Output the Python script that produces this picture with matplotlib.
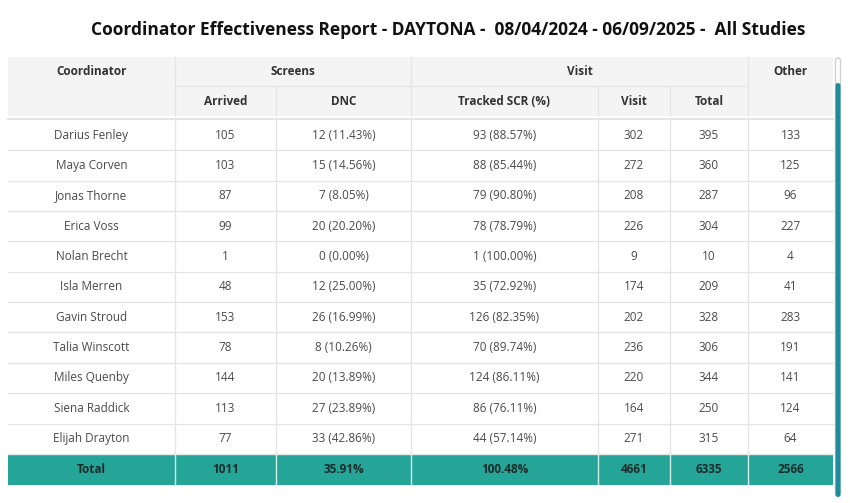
import matplotlib
matplotlib.use("Agg")
import matplotlib.pyplot as plt
from matplotlib.patches import Rectangle, FancyBboxPatch

plt.rcParams['font.family'] = ['Open Sans', 'DejaVu Sans']

title = "Coordinator Effectiveness Report - DAYTONA -  08/04/2024 - 06/09/2025 -  All Studies"
coordinators = ["Darius Fenley", "Maya Corven", "Jonas Thorne", "Erica Voss", "Nolan Brecht",
                "Isla Merren", "Gavin Stroud", "Talia Winscott", "Miles Quenby", "Siena Raddick",
                "Elijah Drayton"]
arrived = [105, 103, 87, 99, 1, 48, 153, 78, 144, 113, 77]
dnc = [12, 15, 7, 20, 0, 12, 26, 8, 20, 27, 33]
dnc_pct = ["11.43%", "14.56%", "8.05%", "20.20%", "0.00%", "25.00%", "16.99%", "10.26%",
           "13.89%", "23.89%", "42.86%"]
tracked = [93, 88, 79, 78, 1, 35, 126, 70, 124, 86, 44]
tracked_pct = ["88.57%", "85.44%", "90.80%", "78.79%", "100.00%", "72.92%", "82.35%",
               "89.74%", "86.11%", "76.11%", "57.14%"]
visit = [302, 272, 208, 226, 9, 174, 202, 236, 220, 164, 271]
total = [395, 360, 287, 304, 10, 209, 328, 306, 344, 250, 315]
other = [133, 125, 96, 227, 4, 41, 283, 191, 141, 124, 64]
totals_row = ["Total", "1011", "35.91%", "100.48%", "4661", "6335", "2566"]
group_headers = ["Coordinator", "Screens", "Visit", "Other"]
sub_headers = ["Arrived", "DNC", "Tracked SCR (%)", "Visit", "Total"]

fig = plt.figure(figsize=(8.5, 5.03), dpi=100)
ax = fig.add_axes([0, 0, 1, 1])
ax.set_xlim(0, 850)
ax.set_ylim(503, 0)
ax.axis('off')

col_x = [8, 175, 276, 411, 598, 670, 748, 833]
hdr_top, hdr_mid, hdr_bot = 57, 86, 116
body_top = 120
row_h = 30.35
line_c = '#e4e6e5'
hdr_bg = '#f3f4f3'
teal = '#25a598'

ax.text(448, 30, title, ha='center', va='center', fontsize=12.5, fontweight='bold', color='#111111')

# header background
ax.add_patch(Rectangle((col_x[0], hdr_top), col_x[-1] - col_x[0], hdr_bot - hdr_top,
                       facecolor=hdr_bg, edgecolor='none'))
# header lines
for x in col_x[1:-1]:
    if x in (col_x[1], col_x[3], col_x[6]):
        ax.plot([x, x], [hdr_top, hdr_bot], color=line_c, lw=1)
    else:
        ax.plot([x, x], [hdr_mid, hdr_bot], color=line_c, lw=1)
ax.plot([col_x[1], col_x[6]], [hdr_mid, hdr_mid], color=line_c, lw=1)

hc = '#333333'
fs = 8.5
ax.text((col_x[0] + col_x[1]) / 2, 71, group_headers[0], ha='center', va='center', fontsize=fs, fontweight='bold', color=hc)
ax.text((col_x[1] + col_x[3]) / 2, 71, group_headers[1], ha='center', va='center', fontsize=fs, fontweight='bold', color=hc)
ax.text((col_x[3] + col_x[6]) / 2, 71, group_headers[2], ha='center', va='center', fontsize=fs, fontweight='bold', color=hc)
ax.text((col_x[6] + col_x[7]) / 2, 71, group_headers[3], ha='center', va='center', fontsize=fs, fontweight='bold', color=hc)
for i, h in enumerate(sub_headers):
    ax.text((col_x[i + 1] + col_x[i + 2]) / 2, 101, h, ha='center', va='center', fontsize=fs, fontweight='bold', color=hc)

ax.plot([col_x[0], col_x[-1]], [118.5, 118.5], color=line_c, lw=1.5)

# body
n = len(coordinators)
bc = '#4a4a4a'
for r in range(n):
    y0 = body_top + r * row_h
    yc = y0 + row_h / 2
    vals = [coordinators[r], str(arrived[r]), f"{dnc[r]} ({dnc_pct[r]})",
            f"{tracked[r]} ({tracked_pct[r]})", str(visit[r]), str(total[r]), str(other[r])]
    for c, v in enumerate(vals):
        ax.text((col_x[c] + col_x[c + 1]) / 2, yc, v, ha='center', va='center', fontsize=fs, color=bc)
    ax.plot([col_x[0], col_x[-1]], [y0 + row_h, y0 + row_h], color=line_c, lw=1)
body_bot = body_top + n * row_h
for x in col_x[1:-1]:
    ax.plot([x, x], [body_top, body_bot], color=line_c, lw=1)

# total row
ty0 = body_bot + 1
th = 30
ax.add_patch(Rectangle((col_x[0], ty0), col_x[-1] - col_x[0], th, facecolor=teal, edgecolor='none'))
for x in col_x[1:-1]:
    ax.plot([x, x], [ty0, ty0 + th], color='#d8ecea', lw=1)
for c, v in enumerate(totals_row):
    ax.text((col_x[c] + col_x[c + 1]) / 2, ty0 + th / 2, v, ha='center', va='center',
            fontsize=fs, fontweight='bold', color='#1c2b2a')

# scrollbar
ax.add_patch(FancyBboxPatch((835.5, 58), 5, 438, boxstyle="round,pad=0,rounding_size=2.5",
                            facecolor='white', edgecolor='#d0d0d0', lw=1))
ax.add_patch(FancyBboxPatch((835.5, 83), 5, 414, boxstyle="round,pad=0,rounding_size=2.5",
                            facecolor='#1d8d9e', edgecolor='none'))

fig.savefig('out.png', dpi=100)
